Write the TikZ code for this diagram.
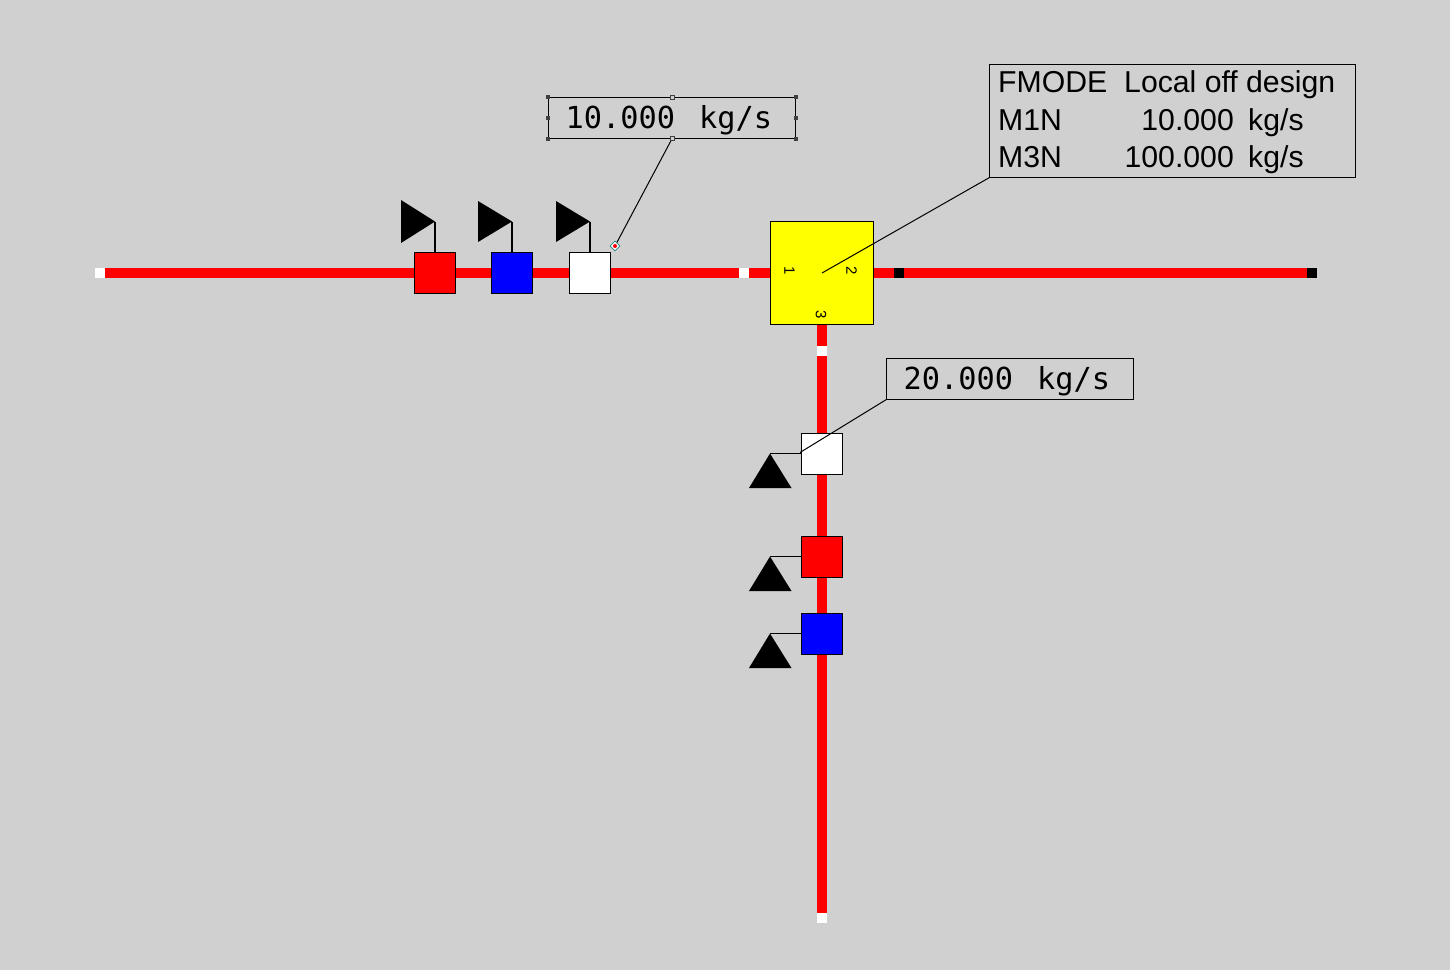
\documentclass[tikz,border=0pt]{standalone}
\usepackage{fontspec}
\setmainfont{Liberation Sans}
\newfontfamily\labelmono{DejaVu Sans Mono}
\usetikzlibrary{shapes.geometric}
\definecolor{bg}{HTML}{D0D0D0}
\definecolor{handle}{HTML}{404040}
\definecolor{teeyellow}{RGB}{255,255,0}
\definecolor{pipered}{RGB}{255,0,0}
\definecolor{valveblue}{RGB}{0,0,255}
\definecolor{markteal}{RGB}{40,130,130}
\tikzset{
  x=1pt,y=-1pt,
  pipe/.style={draw=pipered,line width=10pt},
  seg/.style={inner sep=0pt,outer sep=0pt,minimum width=10pt,minimum height=10pt,fill=#1},
  valve/.style={draw=black,line width=1.3pt,inner sep=0pt,outer sep=0pt,minimum size=41.5pt,fill=#1},
  tee/.style={draw=black,line width=1.3pt,fill=teeyellow,inner sep=0pt,outer sep=0pt,minimum size=103pt},
  flag/.style={fill=black},
  stem/.style={draw=black,line width=1.2pt},
  leader/.style={draw=black,line width=1pt},
  tag/.style={draw=black,line width=1pt,fill=bg,inner sep=0pt,outer sep=0pt,minimum width=247.5pt,minimum height=41.5pt},
  tagtext/.style={inner sep=0pt,font=\labelmono\fontsize{30.3}{30.3}\selectfont},
  tablebox/.style={draw=black,line width=1pt,inner sep=0pt,outer sep=0pt,minimum width=366pt,minimum height=113pt},
  tabletext/.style={inner sep=0pt,font=\fontsize{30.2}{30.2}\selectfont},
  port/.style={inner sep=0pt,rotate=-90,font=\fontsize{15}{15}\selectfont},
  grip/.style={fill=handle,inner sep=0pt,minimum size=4pt},
  griplight/.style={fill=bg,draw=handle,line width=0.6pt,inner sep=0pt,minimum size=4pt},
}
\begin{document}
\begin{tikzpicture}
\useasboundingbox (0,0) rectangle (1450,970);
\fill[bg] (0,0) rectangle (1450,970);
% run markers
\node[seg=white] (endW) at (100,272.5) {};
\node[seg=white] (markW) at (744,272.5) {};
\node[seg=black] (markE) at (899,272.5) {};
\node[seg=black] (endE) at (1312,272.5) {};
\node[seg=white] (markS) at (822,351) {};
\node[seg=white] (endS) at (822,918) {};
% pipes
\draw[pipe] (endW.east) -- (markW.west);
\draw[pipe] (markW.east) -- (770.5,272.5) coordinate (teeW);
\draw[pipe] (873.5,272.5) coordinate (teeE) -- (markE.west);
\draw[pipe] (markE.east) -- (endE.west);
\draw[pipe] (822,324.5) coordinate (teeS) -- (markS.north);
\draw[pipe] (markS.south) -- (endS.north);
% tee
\node[tee] (teeBox) at (822,273) {};
\node[port] (p1) at (789.5,271) {1};
\node[port] (p2) at (851.5,271) {2};
\node[port] (p3) at (821,315) {3};
% horizontal valves
\node[valve=pipered] (vr) at (435,273) {};
\node[valve=valveblue] (vb) at (512,273) {};
\node[valve=white] (vw) at (590,273) {};
% vertical valves
\node[valve=white] (ww) at (822,454) {};
\node[valve=pipered] (wr) at (822,557) {};
\node[valve=valveblue] (wb) at (822,634) {};
% flags
\fill[flag] (401,200) -- (435,221.5) coordinate (fr) -- (401,243) -- cycle;
\fill[flag] (478,201) -- (512,221.5) coordinate (fb) -- (478,242) -- cycle;
\fill[flag] (556,201) -- (590,221.5) coordinate (fw) -- (556,242) -- cycle;
\draw[stem] (fr) -- (vr.north);
\draw[stem] (fb) -- (vb.north);
\draw[stem] (fw) -- (vw.north);
\fill[flag] (770,453.5) coordinate (gw) -- (791.5,488) -- (749,488) -- cycle;
\fill[flag] (770,556.5) coordinate (gr) -- (791.5,591) -- (749,591) -- cycle;
\fill[flag] (770,633.5) coordinate (gb) -- (791.5,668) -- (749,668) -- cycle;
\draw[stem] (gw) -- (ww.west |- gw);
\draw[stem] (gr) -- (wr.west |- gr);
\draw[stem] (gb) -- (wb.west |- gb);
% tags
\node[tag] (tagA) at (672,118) {};
\node[tag] (tagB) at (1009.75,379) {};
\node[tagtext,anchor=base west] (tagAtext) at (565.5,128) {10.000\hspace{24pt}kg/s};
\node[tagtext,anchor=base west] (tagBtext) at (903.5,389) {20.000\hspace{24pt}kg/s};
\coordinate (anchorA) at (615,246);
\coordinate (anchorB) at (800,452.5);
\coordinate (teeC) at (822,273);
\draw[leader] (tagA.south) -- (anchorA);
\draw[leader] (tagB.south west) -- (anchorB);
% table
\node[tablebox,fill=bg] (tbl) at (1172.5,121) {};
\draw[leader] (tbl.south west) -- (teeC);
\node[tabletext,anchor=base west] (t1) at (998,92) {FMODE};
\node[tabletext,anchor=base west] (t2) at (1124,92) {Local off design};
\node[tabletext,anchor=base west] (t3) at (998,130) {M1N};
\node[tabletext,anchor=base east] (t4) at (1234,130) {10.000};
\node[tabletext,anchor=base west] (t5) at (1248,130) {kg/s};
\node[tabletext,anchor=base west] (t6) at (998,167) {M3N};
\node[tabletext,anchor=base east] (t7) at (1234,167) {100.000};
\node[tabletext,anchor=base west] (t8) at (1248,167) {kg/s};
% selection grips
\foreach \a/\n in {north west/a,north east/b,south west/c,south east/d,west/e,east/f}{
  \node[grip] (grip\n) at (tagA.\a) {};
}
\node[griplight] (gripg) at (tagA.north) {};
\node[griplight] (griph) at (tagA.south) {};
% selected anchor marker
\node[diamond,draw=markteal,fill=white,line width=0.6pt,inner sep=0pt,minimum size=10pt] (mark) at (anchorA) {};
\node[circle,fill=pipered,inner sep=0pt,minimum size=4pt] (markdot) at (anchorA) {};
\end{tikzpicture}
\end{document}
